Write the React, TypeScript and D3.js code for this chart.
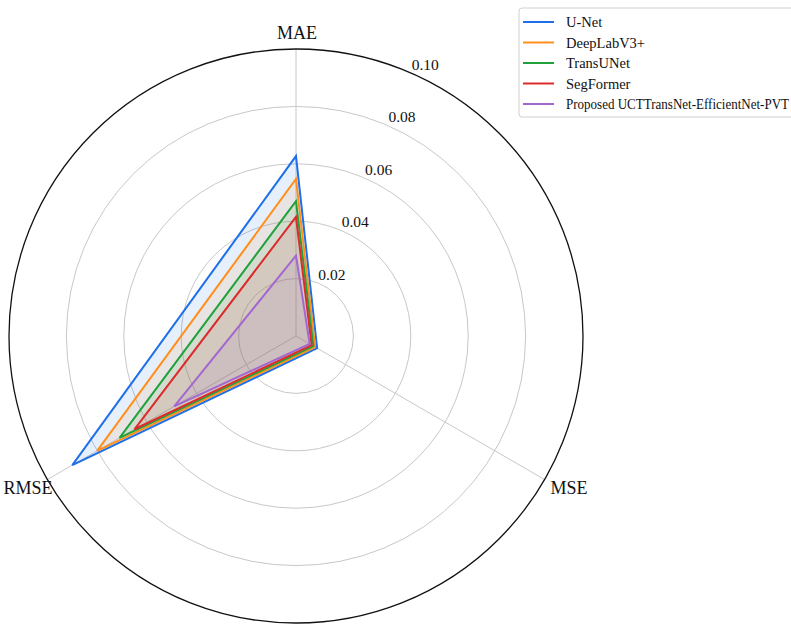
import React from 'react'
import * as d3 from 'd3'

// axes of the radar, clockwise from the top
const categories = ['MAE', 'MSE', 'RMSE']
const models = ['U-Net', 'DeepLabV3+', 'TransUNet', 'SegFormer', 'Proposed UCTTransNet-EfficientNet-PVT']
const colors = ['#1f6fe8', '#ff8f1a', '#22a03a', '#dd2a2a', '#a268cf']

// values per model, same order as models
const maeValues = [0.0627, 0.0547, 0.047, 0.0415, 0.028]
const mseValues = [0.0085, 0.0077, 0.007, 0.0063, 0.0055]
const rmseValues = [0.090, 0.080, 0.071, 0.065, 0.049]

const ringTicks = [0.02, 0.04, 0.06, 0.08, 0.10]
const tickLabels = ['0.02', '0.04', '0.06', '0.08', '0.10']

const font = '"Liberation Serif", "Times New Roman", "DejaVu Serif", serif'

export default function App() {
  const width = 791
  const height = 624
  const cx = 296
  const cy = 336
  const R = 287

  const r = d3.scaleLinear().domain([0, 0.10]).range([0, R])
  // angle in degrees (math convention) for each category
  const angleOf = d3.scaleOrdinal<string, number>().domain(categories).range([90, -30, 210])
  const pt = (cat: string, v: number) => {
    const a = (angleOf(cat) * Math.PI) / 180
    return [cx + r(v) * Math.cos(a), cy - r(v) * Math.sin(a)] as [number, number]
  }

  const series = models.map((m, i) => ({
    name: m,
    color: colors[i],
    values: [maeValues[i], mseValues[i], rmseValues[i]],
  }))

  const line = d3.line<[number, number]>().curve(d3.curveLinearClosed)

  const labelAngle = (66 * Math.PI) / 180

  return (
    <svg width={width} height={height} style={{ position: 'absolute', left: 0, top: 0, background: '#fff' }} fontFamily={font}>
      {/* rings */}
      {ringTicks.slice(0, -1).map(t => (
        <circle key={t} cx={cx} cy={cy} r={r(t)} fill="none" stroke="#c8c8c8" strokeWidth={1} />
      ))}
      {/* spokes */}
      {categories.map(c => {
        const [x, y] = pt(c, 0.10)
        return <line key={c} x1={cx} y1={cy} x2={x} y2={y} stroke="#c8c8c8" strokeWidth={1} />
      })}
      {/* outer spine */}
      <circle cx={cx} cy={cy} r={R} fill="none" stroke="#111" strokeWidth={1.3} />

      {/* series fills, then outlines */}
      {series.map(s => {
        const pts = categories.map((c, j) => pt(c, s.values[j]))
        return <path key={s.name} d={line(pts) || ''} fill={s.color} fillOpacity={0.11} stroke="none" />
      })}
      {series.map(s => {
        const pts = categories.map((c, j) => pt(c, s.values[j]))
        return (
          <path key={s.name} d={line(pts) || ''} fill="none" stroke={s.color} strokeWidth={2} strokeLinejoin="miter" />
        )
      })}

      {/* radial tick labels */}
      {ringTicks.map((t, i) => (
        <text
          key={t}
          x={cx + r(t) * Math.cos(labelAngle) - 1}
          y={cy - r(t) * Math.sin(labelAngle) - 4}
          fontSize={15.5}
          fill="#111"
        >
          {tickLabels[i]}
        </text>
      ))}

      {/* category labels */}
      <text x={pt('MAE', 0.10)[0] + 1} y={pt('MAE', 0.10)[1] - 10} fontSize={18} textAnchor="middle" fill="#111">MAE</text>
      <text x={pt('MSE', 0.10)[0] + 6} y={pt('MSE', 0.10)[1] + 14} fontSize={18} textAnchor="start" fill="#111">MSE</text>
      <text x={pt('RMSE', 0.10)[0] + 5} y={pt('RMSE', 0.10)[1] + 14} fontSize={18} textAnchor="end" fill="#111">RMSE</text>

      {/* legend */}
      <g transform="translate(519,8)">
        <rect x={0} y={0} width={290} height={109} rx={3} fill="#fff" fillOpacity={0.85} stroke="#d0d0d0" />
        {series.map((s, i) => (
          <g key={s.name} transform={`translate(0,${14 + i * 20.5})`}>
            <line x1={4} x2={35} y1={0} y2={0} stroke={s.color} strokeWidth={2} />
            <text
              x={47}
              y={5}
              fontSize={14.5}
              fill="#111"
              {...(s.name.length > 20 ? { textLength: 223, lengthAdjust: 'spacingAndGlyphs' } : {})}
            >
              {s.name}
            </text>
          </g>
        ))}
      </g>
    </svg>
  )
}
